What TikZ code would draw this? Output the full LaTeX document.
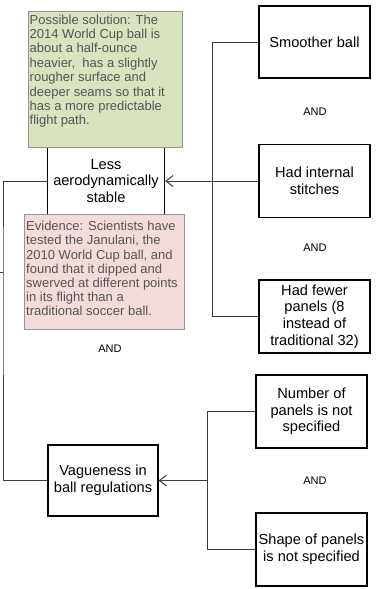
\documentclass[tikz,border=0pt]{standalone}
\usepackage{fontspec}
\setmainfont{Liberation Sans}
\usetikzlibrary{arrows.meta}
\definecolor{notegreen}{RGB}{215,228,189}
\definecolor{notepink}{RGB}{242,220,219}
\definecolor{noteedge}{RGB}{150,150,150}
\definecolor{notetext}{RGB}{85,85,85}
\definecolor{linkgray}{RGB}{60,60,60}
\begin{document}
\begin{tikzpicture}[x=1pt, y=-1pt,
  mainbox/.style={draw, line width=1.4pt, fill=white, inner sep=0pt, align=center,
    minimum width=111pt, minimum height=73pt,
    font=\fontsize{14.6}{16.7}\selectfont},
  notebox/.style={draw=noteedge, line width=1pt, inner sep=0pt},
  notetxt/.style={anchor=north west, inner sep=0pt, align=left, text=notetext,
    font=\fontsize{13}{14.4}\selectfont},
  andlabel/.style={font=\fontsize{11}{13}\selectfont},
  link/.style={draw=linkgray, line width=1pt},
  arr/.style={link, -{Straight Barb[length=7pt, width=11pt]}}]
\useasboundingbox (0,0) rectangle (381,589);
% --- Central effect box (drawn first, notes sit on top) ---
\node[mainbox, minimum width=117pt, minimum height=140pt] (less) at (106,181)
  {Less\\aerodynamically\\stable};
% --- Notes ---
\node[notebox, fill=notegreen, minimum width=154pt, minimum height=136pt] (sol) at (105,79) {};
\node[notetxt] (soltxt) at (29.5,14.5) {Possible solution: The\\2014 World Cup ball is\\about a half-ounce\\heavier,~ has a slightly\\rougher surface and\\deeper seams so that it\\has a more predictable\\flight path.};
\node[notebox, fill=notepink, minimum width=160pt, minimum height=115pt] (evid) at (104,271.5) {};
\node[notetxt, font=\fontsize{13}{14.2}\selectfont] (evidtxt) at (26,221) {Evidence: Scientists have\\tested the Janulani, the\\2010 World Cup ball, and\\found that it dipped and\\swerved at different points\\in its flight than a\\traditional soccer ball.};
% --- Causes on the right ---
\node[mainbox, minimum height=72pt] (smooth) at (314.5,42) {Smoother ball};
\node[mainbox] (stitch) at (314.5,181) {Had internal\\stitches};
\node[mainbox] (fewer) at (314.5,316.5) {Had fewer\\panels (8\\instead of\\traditional 32)};
\node[andlabel] (and1) at (315,112) {AND};
\node[andlabel] (and2) at (315,248) {AND};
% --- Lower branch ---
\node[andlabel] (and3) at (110,349) {AND};
\node[mainbox, minimum width=110pt, minimum height=71pt] (vague) at (103,480.5)
  {Vagueness in\\ball regulations};
\node[mainbox] (number) at (311.5,411.5) {Number of\\panels is not\\specified};
\node[mainbox] (shape) at (311.5,549.5) {Shape of panels\\is not specified};
\node[andlabel] (and4) at (315,481) {AND};
% --- Connectors ---
\coordinate (jointop) at (212,181);
\coordinate (joinlow) at (207,480.5);
\coordinate (bus) at (3,272);
\coordinate (busend) at (0,272);
\draw[link] (smooth.west) -| (jointop);
\draw[link] (fewer.west) -| (jointop);
\draw[arr] (stitch.west) -- (less.east);
\draw[link] (number.west) -| (joinlow);
\draw[link] (shape.west) -| (joinlow);
\draw[arr] (joinlow) -- (vague.east);
\draw[link] (less.west) -| (bus) |- (vague.west);
\draw[link] (busend) -- (bus);
\end{tikzpicture}
\end{document}
